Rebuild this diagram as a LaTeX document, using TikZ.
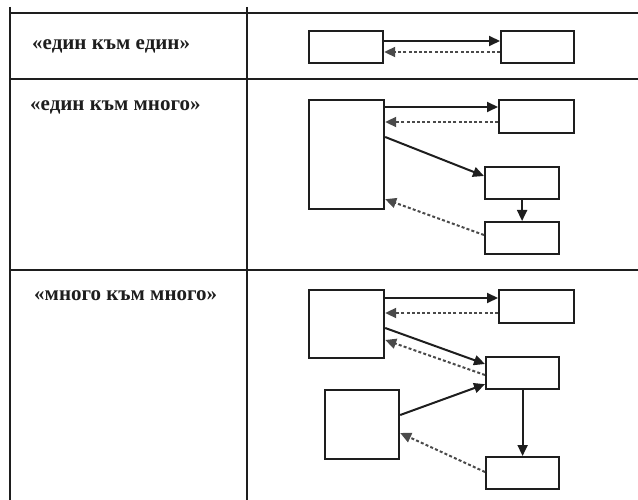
\documentclass[tikz,border=0pt]{standalone}
\usepackage{fontspec}
\setmainfont{Liberation Serif}
\usetikzlibrary{arrows.meta}
\definecolor{ink}{HTML}{1E1E1E}
\definecolor{dashink}{HTML}{4A4A4A}
\tikzset{
  grid/.style={draw=ink, line width=2pt},
  box/.style={draw=ink, line width=2.2pt, rectangle, inner sep=0pt, anchor=north west},
  rel/.style={draw=ink, line width=2pt, -{Triangle[length=11pt,width=10pt]}},
  back/.style={draw=dashink, line width=2pt, dash pattern=on 3pt off 2.2pt, -{Triangle[length=11pt,width=10pt]}},
  label/.style={anchor=west, inner sep=0pt, font=\fontsize{21}{24}\selectfont\bfseries, text=ink},
}
\begin{document}
\begin{tikzpicture}[x=1pt,y=-1pt]
\useasboundingbox (0,0) rectangle (638,500);
% table
\draw[grid] (10,13) -- (638,13);
\draw[grid] (10,79) -- (638,79);
\draw[grid] (10,270) -- (638,270);
\draw[grid] (10,7) -- (10,500);
\draw[grid] (247,7) -- (247,500);
% labels
\node[label] (l1) at (32,46) {«един към един»};
\node[label] (l2) at (30,107) {«един към много»};
\node[label] (l3) at (34,296) {«много към много»};
% row 1
\node[box, minimum width=74pt, minimum height=32pt] (a1) at (308,30) {};
\node[box, minimum width=73pt, minimum height=32pt] (b1) at (500,30) {};
\draw[rel] ([yshift=-11pt]a1.north east) -- ([yshift=-11pt]b1.north west);
\draw[back] ([yshift=-22pt]b1.north west) -- ([yshift=-22pt]a1.north east);
% row 2
\node[box, minimum width=75pt, minimum height=109pt] (c2) at (308,99) {};
\node[box, minimum width=75pt, minimum height=33pt] (d2) at (498,99) {};
\node[box, minimum width=74pt, minimum height=32pt] (e2) at (484,166) {};
\node[box, minimum width=74pt, minimum height=32pt] (f2) at (484,221) {};
\draw[rel] ([yshift=-8pt]c2.north east) -- ([yshift=-8pt]d2.north west);
\draw[back] ([yshift=-23pt]d2.north west) -- ([yshift=-23pt]c2.north east);
\draw[rel] ([yshift=-38pt]c2.north east) -- ([yshift=-10pt]e2.north west);
\draw[rel] (e2.south) -- (f2.north);
\draw[back] ([yshift=-14pt]f2.north west) -- ([yshift=11pt]c2.south east);
% row 3
\node[box, minimum width=75pt, minimum height=68pt] (a3) at (308,289) {};
\node[box, minimum width=75pt, minimum height=33pt] (t3) at (498,289) {};
\node[box, minimum width=73pt, minimum height=32pt] (m3) at (485,356) {};
\node[box, minimum width=74pt, minimum height=69pt] (b3) at (324,389) {};
\node[box, minimum width=73pt, minimum height=32pt] (z3) at (485,456) {};
\draw[rel] ([yshift=-9pt]a3.north east) -- ([yshift=-9pt]t3.north west);
\draw[back] ([yshift=-24pt]t3.north west) -- ([yshift=-24pt]a3.north east);
\draw[rel] ([yshift=-39pt]a3.north east) -- ([yshift=-8pt]m3.north west);
\draw[back] ([yshift=-19pt]m3.north west) -- ([yshift=-51pt]a3.north east);
\draw[rel] ([yshift=-26pt]b3.north east) -- ([yshift=6pt]m3.south west);
\draw[rel] (m3.south) -- (z3.north);
\draw[back] ([yshift=-16pt]z3.north west) -- ([yshift=-44pt]b3.north east);
\end{tikzpicture}
\end{document}
